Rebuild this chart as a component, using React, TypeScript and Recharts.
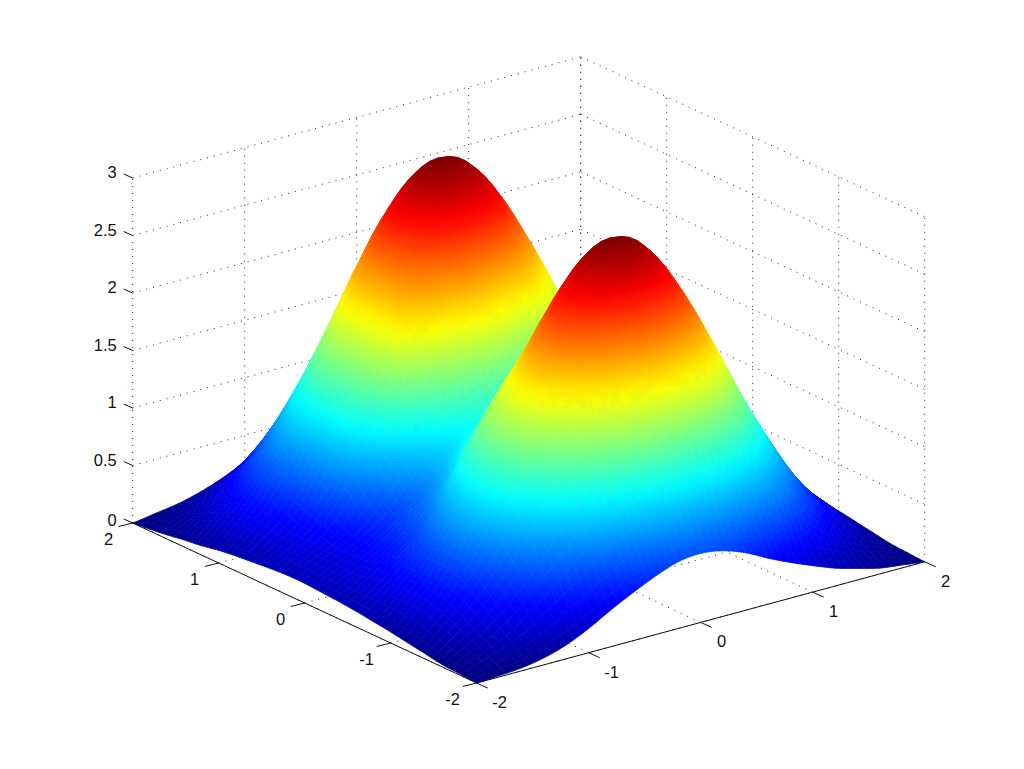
import { ScatterChart, Scatter, XAxis, YAxis, ReferenceLine } from "recharts";

const xTicks = [-2, -1, 0, 1, 2];
const yTicks = [-2, -1, 0, 1, 2];
const zTicks = [0, 0.5, 1, 1.5, 2, 2.5, 3];
const zTickLabels = ["0", "0.5", "1", "1.5", "2", "2.5", "3"];

// surface heights, one list per x, y runs -2..2 in 0.2 steps
const gridX = [-2, -1.8, -1.6, -1.4, -1.2, -1, -0.8, -0.6, -0.4, -0.2, 0, 0.2, 0.4, 0.6, 0.8, 1, 1.2, 1.4, 1.6, 1.8, 2];
const gridY = [-2, -1.8, -1.6, -1.4, -1.2, -1, -0.8, -0.6, -0.4, -0.2, 0, 0.2, 0.4, 0.6, 0.8, 1, 1.2, 1.4, 1.6, 1.8, 2];

const zXm20 = [0, 0.01, 0.02, 0.045, 0.07, 0.095, 0.115, 0.135, 0.15, 0.16, 0.17, 0.17, 0.16, 0.145, 0.13, 0.11, 0.08, 0.06, 0.035, 0.015, 0];
const zXm18 = [0.01, 0.07, 0.12, 0.18, 0.24, 0.27, 0.27, 0.26, 0.25, 0.24, 0.24, 0.24, 0.25, 0.25, 0.27, 0.27, 0.24, 0.18, 0.12, 0.07, 0.03];
const zXm16 = [0.025, 0.13, 0.23, 0.34, 0.43, 0.47, 0.45, 0.42, 0.38, 0.33, 0.32, 0.33, 0.36, 0.38, 0.44, 0.47, 0.43, 0.34, 0.23, 0.13, 0.06];
const zXm14 = [0.06, 0.23, 0.39, 0.56, 0.69, 0.75, 0.7, 0.62, 0.5, 0.46, 0.42, 0.46, 0.58, 0.68, 0.72, 0.75, 0.69, 0.55, 0.38, 0.23, 0.11];
const zXm12 = [0.12, 0.36, 0.6, 0.84, 1.03, 1.1, 1.04, 0.9, 0.72, 0.62, 0.56, 0.68, 0.92, 1.05, 1.08, 1.1, 1.02, 0.82, 0.58, 0.36, 0.18];
const zXm10 = [0.21, 0.5, 0.83, 1.15, 1.4, 1.49, 1.45, 1.3, 1.0, 0.8, 0.74, 0.95, 1.25, 1.45, 1.48, 1.49, 1.39, 1.12, 0.8, 0.5, 0.27];
const zXm08 = [0.32, 0.64, 1.07, 1.49, 1.81, 1.92, 1.8, 1.62, 1.3, 1.05, 0.95, 1.15, 1.75, 1.9, 1.9, 1.92, 1.78, 1.44, 1.02, 0.64, 0.36];
const zXm06 = [0.42, 0.78, 1.29, 1.8, 2.2, 2.33, 2.17, 1.88, 1.55, 1.25, 1.1, 1.4, 1.95, 2.2, 2.28, 2.33, 2.17, 1.75, 1.24, 0.78, 0.46];
const zXm04 = [0.51, 0.89, 1.48, 2.06, 2.52, 2.68, 2.49, 2.1, 1.72, 1.3, 1.18, 1.5, 2.0, 2.4, 2.6, 2.68, 2.49, 2.01, 1.43, 0.89, 0.55];
const zXm02 = [0.58, 0.97, 1.61, 2.24, 2.74, 2.92, 2.71, 2.24, 1.8, 1.32, 1.2, 1.55, 2.05, 2.5, 2.8, 2.92, 2.71, 2.19, 1.56, 0.97, 0.59];
const zX00 = [0.6, 1.0, 1.65, 2.3, 2.82, 3.0, 2.79, 2.3, 1.82, 1.33, 1.2, 1.5, 1.98, 2.5, 2.85, 3.0, 2.79, 2.25, 1.6, 1.0, 0.6];
const zXp02 = [0.57, 0.97, 1.61, 2.24, 2.74, 2.92, 2.71, 2.24, 1.8, 1.32, 1.2, 1.42, 1.85, 2.4, 2.77, 2.92, 2.71, 2.19, 1.56, 0.97, 0.59];
const zXp04 = [0.5, 0.89, 1.48, 2.06, 2.52, 2.68, 2.49, 2.1, 1.7, 1.3, 1.15, 1.3, 1.75, 2.17, 2.55, 2.68, 2.49, 2.01, 1.43, 0.89, 0.55];
const zXp06 = [0.4, 0.78, 1.29, 1.8, 2.2, 2.33, 2.17, 1.88, 1.5, 1.2, 1.08, 1.18, 1.6, 1.9, 2.22, 2.33, 2.17, 1.75, 1.24, 0.78, 0.46];
const zXp08 = [0.31, 0.64, 1.07, 1.49, 1.81, 1.92, 1.8, 1.55, 1.25, 1.0, 0.95, 1.0, 1.3, 1.57, 1.83, 1.92, 1.78, 1.44, 1.02, 0.64, 0.36];
const zXp10 = [0.23, 0.5, 0.83, 1.15, 1.4, 1.49, 1.42, 1.2, 0.95, 0.78, 0.72, 0.76, 0.92, 1.2, 1.41, 1.49, 1.39, 1.12, 0.8, 0.5, 0.27];
const zXp12 = [0.155, 0.36, 0.6, 0.84, 1.03, 1.1, 1.03, 0.88, 0.7, 0.56, 0.52, 0.55, 0.66, 0.86, 1.03, 1.1, 1.02, 0.82, 0.58, 0.36, 0.18];
const zXp14 = [0.1, 0.23, 0.39, 0.56, 0.69, 0.75, 0.7, 0.6, 0.48, 0.42, 0.38, 0.4, 0.47, 0.59, 0.7, 0.75, 0.69, 0.55, 0.38, 0.23, 0.11];
const zXp16 = [0.05, 0.13, 0.23, 0.34, 0.43, 0.47, 0.44, 0.38, 0.33, 0.3, 0.29, 0.3, 0.33, 0.38, 0.44, 0.47, 0.43, 0.34, 0.23, 0.13, 0.06];
const zXp18 = [0.025, 0.07, 0.12, 0.18, 0.24, 0.27, 0.27, 0.25, 0.24, 0.23, 0.23, 0.23, 0.24, 0.25, 0.27, 0.27, 0.24, 0.18, 0.12, 0.07, 0.03];
const zXp20 = [0, 0.01, 0.02, 0.045, 0.07, 0.095, 0.115, 0.135, 0.15, 0.16, 0.17, 0.17, 0.16, 0.145, 0.13, 0.11, 0.08, 0.06, 0.035, 0.015, 0];

const zRows = [zXm20, zXm18, zXm16, zXm14, zXm12, zXm10, zXm08, zXm06, zXm04, zXm02, zX00, zXp02, zXp04, zXp06, zXp08, zXp10, zXp12, zXp14, zXp16, zXp18, zXp20];

const WIDTH = 1024;
const HEIGHT = 769;
const Z_MAX = 3;
const FACETS = 3;

// parallel view of the box, maps data space to the chart's pixel-sized axes
function project(x: number, y: number, z: number) {
  return {
    px: 528.7 + 112 * x - 86 * y,
    py: 542.4 - 30.3 * x - 40 * y - 115 * z,
  };
}

function jet(t: number) {
  const c = (v: number) => Math.round(255 * Math.min(1, Math.max(0, v)));
  return `rgb(${c(1.5 - Math.abs(4 * t - 3))},${c(1.5 - Math.abs(4 * t - 2))},${c(1.5 - Math.abs(4 * t - 1))})`;
}

type Corner = { px: number; py: number; z: number };

const clampIndex = (i: number) => Math.min(gridX.length - 1, Math.max(0, i));

function cubic(a: number, b: number, c: number, d: number, t: number) {
  return b + 0.5 * t * (c - a + t * (2 * a - 5 * b + 4 * c - d + t * (3 * (b - c) + d - a)));
}

// smooth height between the read values, only used to round off the drawn facets
function heightAt(u: number, v: number) {
  const i = Math.min(gridX.length - 2, Math.floor(u));
  const j = Math.min(gridY.length - 2, Math.floor(v));
  const along = (a: number) => {
    const row = zRows[clampIndex(a)];
    return cubic(row[clampIndex(j - 1)], row[clampIndex(j)], row[clampIndex(j + 1)], row[clampIndex(j + 2)], v - j);
  };
  return Math.max(0, cubic(along(i - 1), along(i), along(i + 1), along(i + 2), u - i));
}

function cornerAt(u: number, v: number): Corner {
  const z = heightAt(u, v);
  return { ...project(-2 + 0.2 * u, -2 + 0.2 * v, z), z };
}

function buildCells() {
  const cells = [];
  // back to front so nearer cells paint over farther ones
  for (let i = gridX.length - 2; i >= 0; i--) {
    for (let j = gridY.length - 2; j >= 0; j--) {
      const a = project(gridX[i], gridY[j], zRows[i][j]);
      const c = project(gridX[i + 1], gridY[j + 1], zRows[i + 1][j + 1]);
      cells.push({ id: `c${i}_${j}`, i, j, px: (a.px + c.px) / 2, py: (a.py + c.py) / 2 });
    }
  }
  return cells;
}

const cells = buildCells();

function Facet({ id, corners, dx, dy }: { id: string; corners: Corner[]; dx: number; dy: number }) {
  const [a, b, c, d] = corners;
  const pts = corners.map((p) => `${p.px + dx},${p.py + dy}`).join(" ");
  const zc = (a.z + b.z + c.z + d.z) / 4;
  const mx = (a.px + b.px + c.px + d.px) / 4 + dx;
  const my = (a.py + b.py + c.py + d.py) / 4 + dy;

  const e1x = (b.px + c.px - a.px - d.px) / 2;
  const e1y = (b.py + c.py - a.py - d.py) / 2;
  const e2x = (c.px + d.px - a.px - b.px) / 2;
  const e2y = (c.py + d.py - a.py - b.py) / 2;
  const dz1 = (b.z + c.z - a.z - d.z) / 2;
  const dz2 = (c.z + d.z - a.z - b.z) / 2;
  const det = e1x * e2y - e1y * e2x;
  const gx = det ? (dz1 * e2y - dz2 * e1y) / det : 0;
  const gy = det ? (e1x * dz2 - e2x * dz1) / det : 0;
  const g2 = gx * gx + gy * gy;

  if (Math.abs(det) < 0.5 || g2 < 1e-8) {
    const flat = jet(zc / Z_MAX);
    return <polygon points={pts} fill={flat} stroke={flat} strokeWidth={0.7} />;
  }
  const half = (Math.abs(dz1) + Math.abs(dz2)) / 2 + 0.005;
  return (
    <>
      <linearGradient
        id={id}
        gradientUnits="userSpaceOnUse"
        x1={mx - (gx / g2) * half}
        y1={my - (gy / g2) * half}
        x2={mx + (gx / g2) * half}
        y2={my + (gy / g2) * half}
      >
        <stop offset={0} stopColor={jet((zc - half) / Z_MAX)} />
        <stop offset={0.5} stopColor={jet(zc / Z_MAX)} />
        <stop offset={1} stopColor={jet((zc + half) / Z_MAX)} />
      </linearGradient>
      <polygon points={pts} fill={`url(#${id})`} stroke={`url(#${id})`} strokeWidth={0.7} />
    </>
  );
}

function SurfaceCell(props: any) {
  const { cx, cy, payload } = props;
  const dx = cx - payload.px;
  const dy = cy - payload.py;
  const facets = [];
  const step = 1 / FACETS;
  for (let a = FACETS - 1; a >= 0; a--) {
    for (let b = FACETS - 1; b >= 0; b--) {
      const u = payload.i + a * step;
      const v = payload.j + b * step;
      facets.push(
        <Facet
          key={`${a}_${b}`}
          id={`${payload.id}_${a}_${b}`}
          dx={dx}
          dy={dy}
          corners={[cornerAt(u, v), cornerAt(u + step, v), cornerAt(u + step, v + step), cornerAt(u, v + step)]}
        />
      );
    }
  }
  return <g>{facets}</g>;
}

function TickText(props: any) {
  const { cx, cy, payload } = props;
  return (
    <text
      x={cx}
      y={cy}
      textAnchor={payload.anchor}
      dominantBaseline="central"
      fontFamily="'Liberation Sans', Arial, sans-serif"
      fontSize={16.5}
      fill="#111"
    >
      {payload.label}
    </text>
  );
}

function seg(a: { px: number; py: number }, b: { px: number; py: number }) {
  return [
    { x: a.px, y: a.py },
    { x: b.px, y: b.py },
  ] as any;
}

const gridSegments = [
  ...zTicks.flatMap((z) => [
    seg(project(-2, 2, z), project(2, 2, z)),
    seg(project(2, 2, z), project(2, -2, z)),
  ]),
  ...xTicks.map((x) => seg(project(x, 2, 0), project(x, 2, Z_MAX))),
  ...yTicks.map((y) => seg(project(2, y, 0), project(2, y, Z_MAX))),
  ...xTicks.map((x) => seg(project(x, -2, 0), project(x, 2, 0))),
  ...yTicks.map((y) => seg(project(-2, y, 0), project(2, y, 0))),
];

const shift = (p: { px: number; py: number }, dx: number, dy: number) => ({ px: p.px + dx, py: p.py + dy });

const solidSegments = [
  seg(project(-2, -2, 0), project(-2, 2, 0)),
  seg(project(-2, -2, 0), project(2, -2, 0)),
  ...zTicks.map((z) => seg(project(-2, 2, z), shift(project(-2, 2, z), -9, -4))),
  ...yTicks.map((y) => seg(project(-2, y, 0), shift(project(-2, y, 0), -14, 3.5))),
  ...xTicks.map((x) => seg(project(x, -2, 0), shift(project(x, -2, 0), 11, 5))),
];

const tickTexts = [
  ...zTicks.map((z, i) => ({
    ...shift(project(-2, 2, z), -16, z === 0 ? -3 : -6),
    label: zTickLabels[i],
    anchor: "end",
  })),
  ...yTicks.map((y) => ({
    ...shift(project(-2, y, 0), -24, 16),
    label: String(y),
    anchor: "middle",
  })),
  ...xTicks.map((x) => ({
    ...shift(project(x, -2, 0), x < 0 ? 23 : 21, 19),
    label: String(x),
    anchor: "middle",
  })),
];

export default function App() {
  return (
    <div style={{ position: "absolute", left: 0, top: 0, width: WIDTH, height: HEIGHT, background: "#fff" }}>
      <ScatterChart width={WIDTH} height={HEIGHT} margin={{ top: 0, right: 0, bottom: 0, left: 0 }}>
        <XAxis type="number" dataKey="px" domain={[0, WIDTH]} hide allowDataOverflow />
        <YAxis type="number" dataKey="py" domain={[0, HEIGHT]} reversed hide allowDataOverflow />
        {gridSegments.map((s, i) => (
          <ReferenceLine key={`g${i}`} segment={s} stroke="#222" strokeWidth={1} strokeDasharray="1 6" ifOverflow="visible" />
        ))}
        {solidSegments.map((s, i) => (
          <ReferenceLine key={`s${i}`} segment={s} stroke="#111" strokeWidth={1} ifOverflow="visible" />
        ))}
        <Scatter data={cells} shape={SurfaceCell} isAnimationActive={false} />
        <Scatter data={tickTexts} shape={TickText} isAnimationActive={false} />
      </ScatterChart>
    </div>
  );
}
